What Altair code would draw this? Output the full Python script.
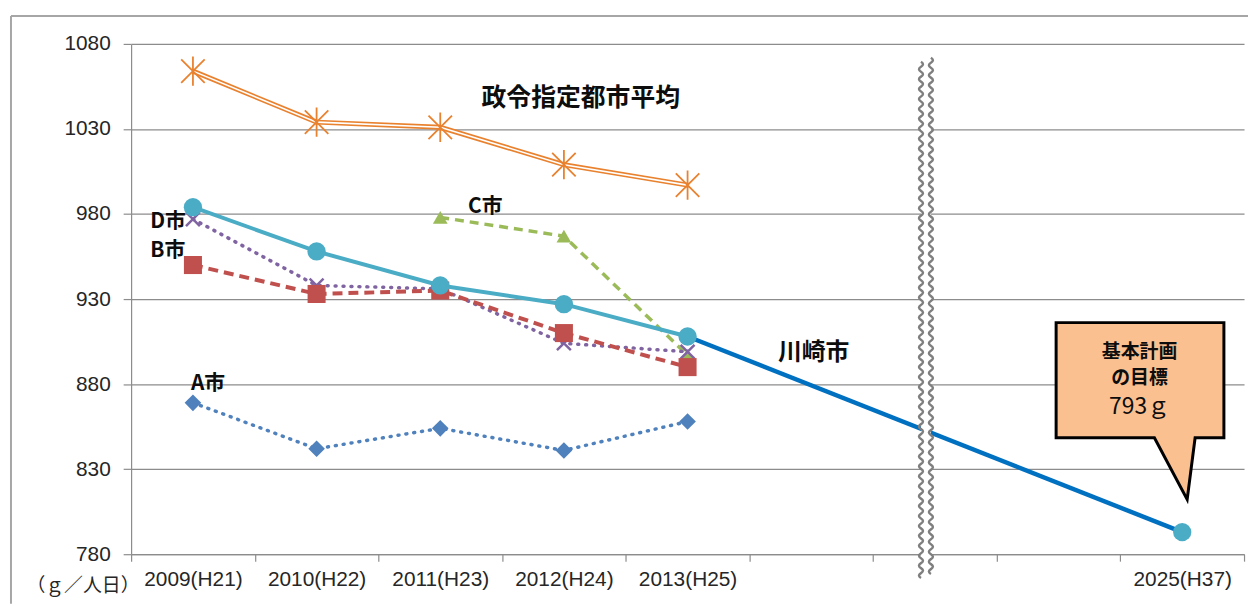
import altair as alt
import pandas as pd

# ---------------- data ----------------
cats = ["2009(H21)", "2010(H22)", "2011(H23)", "2012(H24)", "2013(H25)",
        " ", "  ", "   ", "2025(H37)"]
years5 = ["2009(H21)", "2010(H22)", "2011(H23)", "2012(H24)", "2013(H25)"]

seirei_avg = [1064, 1034, 1031, 1009, 997]      # 政令指定都市平均
kawasaki = [984, 958, 938, 927, 908]           # 川崎市
target_years = ["2013(H25)", "2025(H37)"]
target_vals = [908, 793]                        # 基本計画の目標
a_city = [869, 842, 854, 841, 858]
b_city = [950, 933, 935, 910, 890]
c_years = ["2011(H23)", "2012(H24)", "2013(H25)"]
c_city = [978, 967, 897]
d_city = [977, 938, 936, 904, 899]

ann_texts = ["政令指定都市平均", "C市", "D市", "B市", "A市", "川崎市"]
ann_years = ["2012(H24)", "2011(H23)", "2009(H21)", "2009(H21)", "2009(H21)", "2013(H25)"]
ann_vals = [1048, 984, 975, 958, 880, 898]

callout_texts = ["基本計画", "の目標", "793ｇ"]

y_ticks = [780, 830, 880, 930, 980, 1030, 1080]

# ---------------- styling ----------------
W, H = 1121, 514
FONT_JP = "Noto Sans CJK JP"
FONT_NUM = "Liberation Sans"
GRID = "#8C8C8C"

xscale = alt.Scale(type="band", domain=cats, paddingInner=0, paddingOuter=0)
yscale = alt.Scale(domain=[780, 1080], nice=False, zero=False)

xaxis = alt.Axis(title=None, tickBand="extent", grid=False, domainColor=GRID,
                 domainWidth=1.2, tickColor=GRID, tickSize=7, tickWidth=1.2,
                 labelFontSize=21, labelFont=FONT_NUM, labelColor="#262626",
                 labelPadding=8, labelAngle=0, labelOverlap=False, labelBound=False)
yaxis = alt.Axis(values=y_ticks, format="d", grid=True, gridColor=GRID, gridWidth=1.2,
                 domainColor=GRID, domainWidth=1.2, tickColor=GRID, tickSize=8,
                 tickWidth=1.2, labelFontSize=21, labelFont=FONT_NUM,
                 labelColor="#262626", labelPadding=13,
                 title="（ｇ／人日）", titleAngle=0, titleX=-49, titleY=546,
                 titleAlign="center", titleBaseline="middle", titleFontSize=19,
                 titleFontWeight="normal", titleColor="#262626", titleFont=FONT_JP)

X = alt.X("year:N", scale=xscale, axis=xaxis)
Y = alt.Y("value:Q", scale=yscale, axis=yaxis)


def frame(years, vals):
    return pd.DataFrame({"year": years, "value": vals, "i": list(range(len(vals)))})


def series(years, vals, color, width, dash=None, shape=None, size=100,
           filled=True, mstroke=1.5, cap="butt"):
    df = frame(years, vals)
    base = alt.Chart(df)
    lkw = dict(color=color, strokeWidth=width, strokeCap=cap)
    if dash:
        lkw["strokeDash"] = dash
    layers = [base.mark_line(**lkw).encode(x=X, y=Y, order="i:Q")]
    if shape:
        if filled:
            pk = dict(shape=shape, size=size, filled=True, color=color, opacity=1)
        else:
            pk = dict(shape=shape, size=size, filled=False, color=color,
                      strokeWidth=mstroke, opacity=1)
        layers.append(base.mark_point(**pk).encode(x=X, y=Y))
    return layers


# outer chart-area border (top and left edges visible)
border_top = alt.Chart(pd.DataFrame({"a": [0]})).mark_rule(
    color="#A6A6A6", strokeWidth=2).encode(
    x=alt.value(-121), x2=alt.value(W + 4), y=alt.value(-28))
border_left = alt.Chart(pd.DataFrame({"a": [0]})).mark_rule(
    color="#A6A6A6", strokeWidth=2).encode(
    x=alt.value(-121), y=alt.value(-28), y2=alt.value(H + 50))

layers = [border_top, border_left]

# target line (川崎市 → 2025 goal)
layers += series(target_years, target_vals, "#0070C0", 4.5)

# A, C, D, B
layers += series(years5, a_city, "#4F81BD", 3.5, dash=[1, 7], shape="diamond",
                 size=280, cap="round")
layers += series(c_years, c_city, "#9BBB59", 3.5, dash=[9, 6], shape="triangle-up",
                 size=220)
layers += series(years5, d_city, "#8064A2", 3.5, dash=[1, 7],
                 shape="M-1,-1L1,1M-1,1L1,-1", size=196, filled=False,
                 mstroke=2.5, cap="round")
layers += series(years5, b_city, "#C0504D", 4, dash=[10, 6], shape="square",
                 size=330)

# 川崎市
layers += series(years5, kawasaki, "#4BACC6", 4, shape="circle", size=340)
layers.append(alt.Chart(frame(["2025(H37)"], [793])).mark_point(
    shape="circle", size=340, filled=True, color="#4BACC6", opacity=1).encode(x=X, y=Y))

# 政令指定都市平均 (double line with star markers)
sdf = frame(years5, seirei_avg)
layers.append(alt.Chart(sdf).mark_line(color="#E9822F", strokeWidth=5).encode(
    x=X, y=Y, order="i:Q"))
layers.append(alt.Chart(sdf).mark_line(color="white", strokeWidth=1.6).encode(
    x=X, y=Y, order="i:Q"))
layers.append(alt.Chart(sdf).mark_point(
    shape="M-1,-1L1,1M-1,1L1,-1M0,-1.25L0,1.25", size=560, filled=False,
    color="#E9822F", strokeWidth=1.8, opacity=1).encode(x=X, y=Y))


# axis break (wavy double line) anchored at the middle empty slot
def wave(x0, y0, y1, amp=4.0, half=5.0):
    parts = [f"M{x0},{y0}"]
    n = int((y1 - y0) / (2 * half))
    for _ in range(n):
        parts.append(f"q{amp},{half / 2} 0,{half} q{-amp},{half / 2} 0,{half}")
    return " ".join(parts)


brk = frame(["  "], [780])
band_path = "M-14,-500L-4,-500L-4,30L-14,30Z"
layers.append(alt.Chart(brk).mark_point(shape=band_path, size=4, filled=True,
                                        color="white", opacity=1).encode(x=X, y=Y))
for xo, ytop in [(-14, -496), (-4, -500)]:
    layers.append(alt.Chart(brk).mark_point(
        shape=wave(xo, ytop, 28), size=4, filled=False, color="#7F7F7F",
        strokeWidth=2.5, opacity=1).encode(x=X, y=Y))

# annotations
ann_style = {
    "政令指定都市平均": dict(dx=17, align="center", fontSize=25),
    "C市": dict(dx=28, align="left", fontSize=21),
    "D市": dict(dx=-43, align="left", fontSize=21),
    "B市": dict(dx=-43, align="left", fontSize=21),
    "A市": dict(dx=-2, align="left", fontSize=21),
    "川崎市": dict(dx=91, align="left", fontSize=24),
}
for t, yr, v in zip(ann_texts, ann_years, ann_vals):
    st = ann_style[t]
    df = pd.DataFrame({"year": [yr], "value": [v], "t": [t]})
    layers.append(alt.Chart(df).mark_text(
        dx=st["dx"], align=st["align"], baseline="middle", fontSize=st["fontSize"],
        fontWeight="bold", font=FONT_JP, color="#0D0D0D").encode(
        x=X, y=Y, text="t:N"))

# callout box anchored at the 2025 goal
goal = frame(["2025(H37)"], [793])
callout_path = "M-127,-211L42,-211L42,-95L13,-95L5,-33L-28,-95L-127,-95Z"
layers.append(alt.Chart(goal).mark_point(
    shape=callout_path, size=4, filled=True, fill="#FAC090", stroke="black",
    strokeWidth=3, strokeJoin="miter", opacity=1).encode(x=X, y=Y))
c_style = [dict(dy=-181, fontSize=19, fontWeight="bold"),
           dict(dy=-155, fontSize=19, fontWeight="bold"),
           dict(dy=-126, fontSize=23, fontWeight="normal")]
for t, st in zip(callout_texts, c_style):
    df = pd.DataFrame({"year": ["2025(H37)"], "value": [793], "t": [t]})
    layers.append(alt.Chart(df).mark_text(
        dx=-43, dy=st["dy"], align="center", baseline="middle",
        fontSize=st["fontSize"], fontWeight=st["fontWeight"], font=FONT_JP,
        color="#0D0D0D").encode(x=X, y=Y, text="t:N"))

chart = alt.layer(*layers).properties(
    width=W, height=H,
    padding={"left": 2, "top": 5, "right": 0, "bottom": 0},
    background="white",
).configure_view(stroke=None)

chart.save("out.html", embed_options={"renderer": "svg", "actions": False})
